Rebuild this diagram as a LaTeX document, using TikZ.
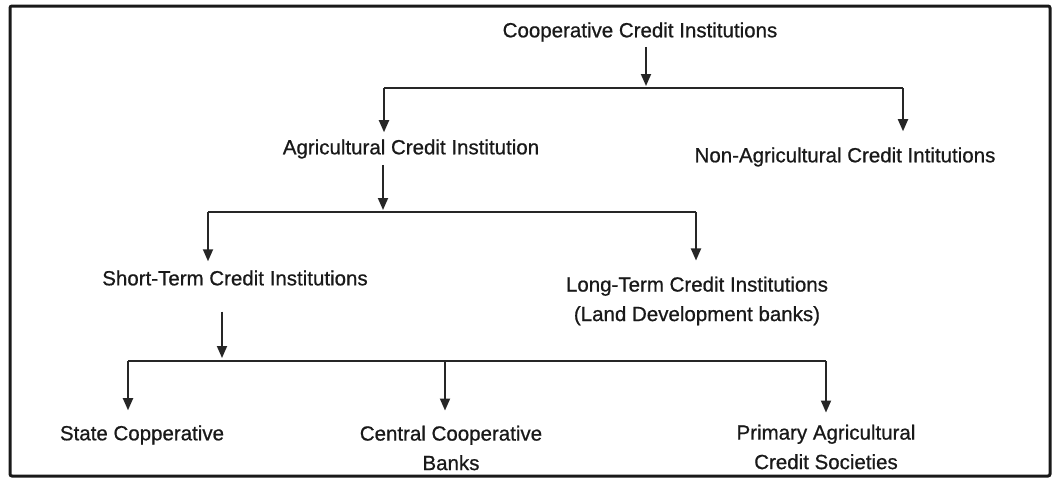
\documentclass[tikz,border=0pt]{standalone}
\usepackage{fontspec}
\setmainfont{Liberation Sans}[FakeBold=0.7]
\usetikzlibrary{arrows.meta}
\begin{document}
\begin{tikzpicture}[x=1pt,y=-1pt,
  lbl/.style={inner sep=2pt,align=center,text=black!90,font=\fontsize{20.5}{29.5}\selectfont},
  conn/.style={line width=1.8pt,draw=black!85},
  bar/.style={line width=2.6pt,draw=black!85},
  arr/.style={conn,-{Triangle[width=10pt,length=12pt]}}]
\useasboundingbox (0,0) rectangle (1053,479);
\draw[line width=3pt,rounded corners=2pt,draw=black!90] (10,6) rectangle (1050,476);

\node[lbl] (coop) at (640,32) {Cooperative Credit Institutions};
\node[lbl] (agri) at (411,149) {Agricultural Credit Institution};
\node[lbl] (nonagri) at (845,157) {Non-Agricultural Credit Intitutions};
\node[lbl] (short) at (235,278) {Short-Term Credit Institutions};
\node[lbl] (long) at (697,301) {Long-Term Credit Institutions\\(Land Development banks)};
\node[lbl] (state) at (142,435) {State Copperative};
\node[lbl] (central) at (451,448) {Central Cooperative\\Banks};
\node[lbl] (primary) at (826,447) {Primary Agricultural\\Credit Societies};

% level 1
\coordinate (j1) at (646,88);
\coordinate (b1l) at (384,88);
\coordinate (b1r) at (903,88);
\draw[arr,shorten <=3pt] (coop.south -| j1) -- ([yshift=2pt]j1);
\draw[bar] (b1l) -- (b1r);
\draw[arr,shorten >=5pt] (b1l) -- (agri.north -| b1l);
\draw[arr,shorten >=14pt] (b1r) -- (nonagri.north -| b1r);

% level 2
\coordinate (j2) at (383,212);
\coordinate (b2l) at (208,212);
\coordinate (b2r) at (696,212);
\draw[arr,shorten <=4pt] (agri.south -| j2) -- ([yshift=2pt]j2);
\draw[bar] (b2l) -- (b2r);
\draw[arr,shorten >=7pt] (b2l) -- (short.north -| b2l);
\draw[arr,shorten >=14pt] (b2r) -- (long.north -| b2r);

% level 3
\coordinate (j3) at (222,361);
\coordinate (b3l) at (128,361);
\coordinate (b3m) at (445,361);
\coordinate (b3r) at (826,361);
\draw[arr,shorten <=24pt] (short.south -| j3) -- ([yshift=3pt]j3);
\draw[bar] (b3l) -- (b3r);
\draw[arr,shorten >=13pt] (b3l) -- (state.north -| b3l);
\draw[arr,shorten >=13pt] (b3m) -- (central.north -| b3m);
\draw[arr,shorten >=10pt] (b3r) -- (primary.north -| b3r);
\end{tikzpicture}
\end{document}
